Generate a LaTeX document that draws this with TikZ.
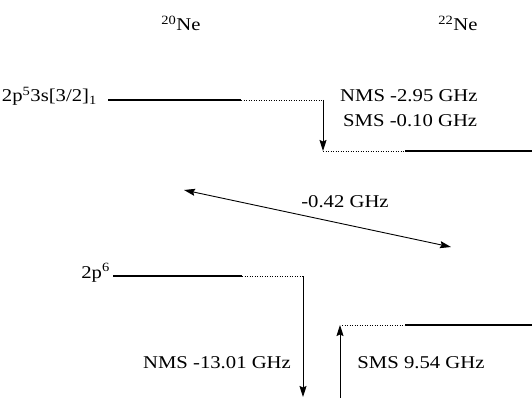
\documentclass[tikz,border=0pt]{standalone}
\usepackage{fontspec}
\setmainfont{Liberation Serif}[FakeStretch=1.15]
\usetikzlibrary{arrows.meta}
\tikzset{
  levelline/.style={line width=1.8pt},
  virtline/.style={line width=0.5pt, dotted},
  tip/.tip={Stealth[length=11pt,width=7pt,inset=1.5pt]},
  shiftarrow/.style={line width=0.9pt, -tip},
  biarrow/.style={line width=0.9pt, tip-tip},
  lbl/.style={inner sep=0pt, font=\fontsize{18}{21}\selectfont},
}
\begin{document}
\begin{tikzpicture}[x=1pt,y=-1pt]
\useasboundingbox (0,0) rectangle (532,398);
% isotope headings
\node[lbl, anchor=base] (h20) at (181,31) {\textsuperscript{20}Ne};
\node[lbl, anchor=base] (h22) at (458,31) {\textsuperscript{22}Ne};
% upper level
\coordinate (u20a) at (108,100);
\coordinate (u20b) at (241,100);
\coordinate (u20c) at (323,100);
\coordinate (u22a) at (323,151);
\coordinate (u22b) at (405,151);
\coordinate (u22c) at (532,151);
\node[lbl, anchor=base east] (ulab) at (97,102) {2p\textsuperscript{5}3s[3/2]\textsubscript{1}};
\draw[levelline] (u20a) -- (u20b);
\draw[virtline] (u20b) -- (u20c);
\draw[shiftarrow] (u20c) -- (u22a);
\draw[virtline] (u22a) -- (u22b);
\draw[levelline] (u22b) -- (u22c);
\node[lbl, anchor=base west] (nms1) at (340,102) {NMS -2.95 GHz};
\node[lbl, anchor=base west] (sms1) at (343,127) {SMS -0.10 GHz};
% transition isotope shift
\coordinate (da) at (184,190);
\coordinate (db) at (451,247);
\draw[biarrow] (da) -- (db);
\node[lbl, anchor=base] (tis) at (345,207) {-0.42 GHz};
% ground level
\coordinate (g20a) at (113,276);
\coordinate (g20b) at (242,276);
\coordinate (g20c) at (303,276);
\coordinate (g20d) at (303,397);
\coordinate (g22a) at (342,325);
\coordinate (g22b) at (405,325);
\coordinate (g22c) at (532,325);
\coordinate (g22d) at (340,398);
\coordinate (g22e) at (340,325);
\node[lbl, anchor=base east] (glab) at (110,278) {2p\textsuperscript{6}};
\draw[levelline] (g20a) -- (g20b);
\draw[virtline] (g20b) -- (g20c);
\draw[shiftarrow] (g20c) -- (g20d);
\draw[virtline] (g22a) -- (g22b);
\draw[levelline] (g22b) -- (g22c);
\draw[shiftarrow] (g22d) -- (g22e);
\node[lbl, anchor=base] (nms0) at (217,368) {NMS -13.01 GHz};
\node[lbl, anchor=base] (sms0) at (421,368) {SMS 9.54 GHz};
\end{tikzpicture}
\end{document}
